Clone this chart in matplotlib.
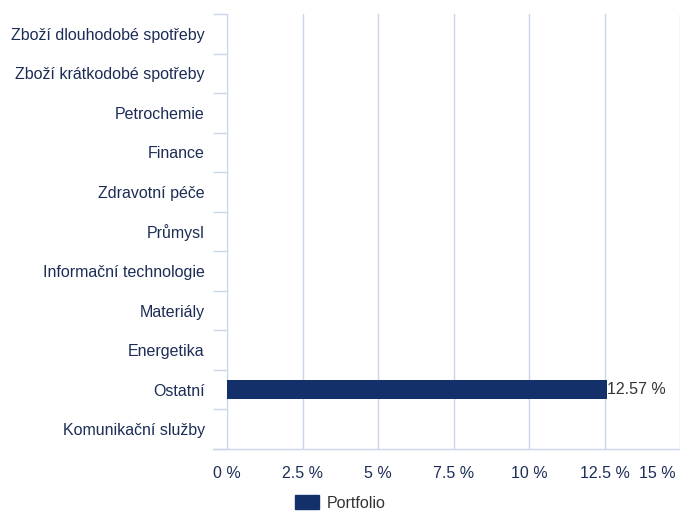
import numpy as np
import matplotlib.pyplot as plt
from matplotlib.patches import Patch
from matplotlib.ticker import FixedLocator

categories = ['Zboží dlouhodobé spotřeby', 'Zboží krátkodobé spotřeby', 'Petrochemie',
              'Finance', 'Zdravotní péče', 'Průmysl', 'Informační technologie',
              'Materiály', 'Energetika', 'Ostatní', 'Komunikační služby']
values = [0, 0, 0, 0, 0, 0, 0, 0, 0, 12.57, 0]
xticks = [0, 2.5, 5, 7.5, 10, 12.5, 15]
xtick_labels = ['0 %', '2.5 %', '5 %', '7.5 %', '10 %', '12.5 %', '15 %']

bar_color = '#14306a'
grid_color = '#c9d5e8'
text_color = '#1c2d55'

plt.rcParams['font.family'] = ['Liberation Sans', 'DejaVu Sans']
fs = 11.5

fig = plt.figure(figsize=(6.8, 5.11), dpi=100)
ax = fig.add_axes([227 / 680, 1 - 449 / 511, 453 / 680, 435 / 511])

y = np.arange(len(categories))
for yi, v in zip(y, values):
    if v > 0:
        ax.barh(yi, v, height=0.48, color=bar_color, zorder=3)
        ax.text(v + 0.02, yi, f'{v:.2f} %', va='center', ha='left',
                fontsize=fs, color='#333333', zorder=4)

ax.set_xlim(0, 15)
ax.set_ylim(len(categories) - 0.5, -0.5)

ax.set_xticks(xticks)
ax.set_xticklabels(xtick_labels, fontsize=fs, color=text_color)
last = ax.get_xticklabels()[-1]
last.set_horizontalalignment('right')
ax.tick_params(axis='x', length=0, pad=12)
ax.grid(axis='x', color=grid_color, linewidth=1, zorder=0)

ax.set_yticks(y)
ax.set_yticklabels(categories, fontsize=fs, color=text_color)
ax.yaxis.set_minor_locator(FixedLocator(np.arange(len(categories) + 1) - 0.5))
ax.tick_params(axis='y', which='major', length=0, pad=16)
ax.tick_params(axis='y', which='minor', length=10, width=1, color=grid_color)

for s in ['top', 'right', 'bottom']:
    ax.spines[s].set_visible(False)
ax.spines['left'].set_color(grid_color)
ax.plot([-14 / 453, 1], [0, 0], transform=ax.transAxes, color=grid_color,
        linewidth=1, clip_on=False, zorder=2)

fig.legend(handles=[Patch(color=bar_color, label='Portfolio')],
           loc='center', bbox_to_anchor=(0.5, 1 - 503 / 511),
           frameon=False, fontsize=fs, handlelength=1.5, handleheight=1.0,
           handletextpad=0.5, labelcolor='#333333', borderpad=0)

fig.canvas.draw()
# nudge last tick label inside the figure edge
from matplotlib.transforms import ScaledTranslation
last.set_transform(last.get_transform() + ScaledTranslation(-3 / 72, 0, fig.dpi_scale_trans))

fig.savefig('out.png', dpi=100)
